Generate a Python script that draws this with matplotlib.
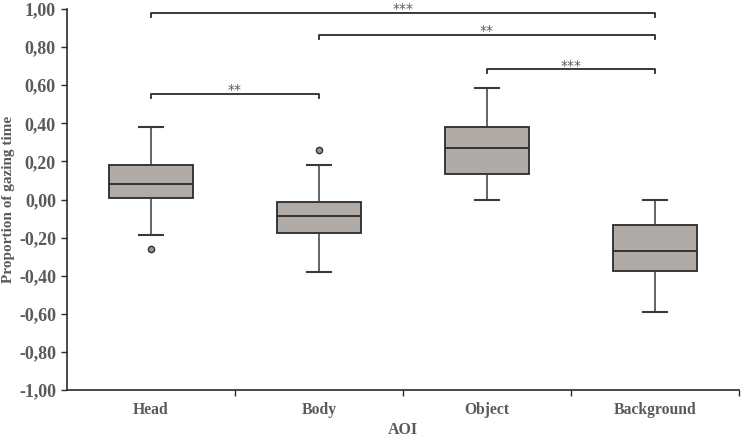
import matplotlib
matplotlib.use("Agg")
import matplotlib.pyplot as plt
from matplotlib.ticker import FixedLocator, FuncFormatter

categories = ["Head", "Body", "Object", "Background"]
whisker_low = [-0.184, -0.379, 0.0, -0.588]
q1 = [0.01, -0.175, 0.133, -0.377]
median = [0.083, -0.086, 0.272, -0.272]
q3 = [0.18, -0.014, 0.383, -0.135]
whisker_high = [0.383, 0.18, 0.585, 0.0]
outliers = [[-0.26], [0.258], [], []]

# significance brackets: (from index, to index, height, label)
brackets = [(0, 3, 0.98, "***"), (1, 3, 0.865, "**"), (2, 3, 0.684, "***"), (0, 1, 0.556, "**")]

y_ticks = [-1.0, -0.8, -0.6, -0.4, -0.2, 0.0, 0.2, 0.4, 0.6, 0.8, 1.0]

text_color = "#5a5a5a"
line_color = "#2b2b2b"
box_color = "#b0aba7"
font = ["Liberation Serif", "DejaVu Serif"]

W, H = 742, 438
fig = plt.figure(figsize=(W / 100, H / 100), dpi=100)
ax = fig.add_axes([67 / W, 1 - 390 / H, (739 - 67) / W, (390 - 9) / H])

stats = []
for i, c in enumerate(categories):
    stats.append(dict(label=c, whislo=whisker_low[i], q1=q1[i], med=median[i],
                      q3=q3[i], whishi=whisker_high[i], fliers=outliers[i]))

positions = list(range(1, len(categories) + 1))
ax.bxp(stats, positions=positions, widths=0.5, capwidths=0.14, patch_artist=True,
       boxprops=dict(facecolor=box_color, edgecolor=line_color, linewidth=1.3),
       medianprops=dict(color=line_color, linewidth=1.3),
       whiskerprops=dict(color="#3a3a3a", linewidth=1.1),
       capprops=dict(color="#3a3a3a", linewidth=1.5),
       flierprops=dict(marker="o", markersize=4.5, markerfacecolor="#9a9592",
                       markeredgecolor="#333333", markeredgewidth=1.0))

ax.set_xlim(0.5, 4.5)
ax.set_ylim(-1.0, 1.0)

for spine in ["top", "right"]:
    ax.spines[spine].set_visible(False)
for spine in ["left", "bottom"]:
    ax.spines[spine].set_color(line_color)
    ax.spines[spine].set_linewidth(1.2)

ax.yaxis.set_major_locator(FixedLocator(y_ticks))
ax.yaxis.set_major_formatter(FuncFormatter(lambda v, p: f"{v:.2f}".replace(".", ",").replace("-0,00", "0,00")))
ax.xaxis.set_major_locator(FixedLocator([1.5, 2.5, 3.5, 4.5]))
ax.xaxis.set_major_formatter(FuncFormatter(lambda v, p: ""))
ax.xaxis.set_minor_locator(FixedLocator(positions))
ax.xaxis.set_minor_formatter(FuncFormatter(lambda v, p: categories[int(round(v)) - 1]))
ax.tick_params(axis="x", which="major", length=4, width=1.0, color=line_color, direction="out")
ax.tick_params(axis="x", which="minor", length=0, pad=9)
ax.tick_params(axis="y", length=4, width=1.0, color=line_color, direction="out", pad=4)

for lab in ax.get_yticklabels():
    lab.set_family(font)
    lab.set_fontweight("bold")
    lab.set_fontsize(13)
    lab.set_color(text_color)
for lab in ax.get_xticklabels(minor=True):
    lab.set_family(font)
    lab.set_fontweight("bold")
    lab.set_fontsize(11.3)
    lab.set_color(text_color)

xl = ax.set_xlabel("AOI", family=font, fontweight="bold", fontsize=11.5, color=text_color)
xl.set_va("baseline")
ax.xaxis.set_label_coords(0.5, -(434 - 390) / 381)
yl = ax.set_ylabel("Proportion of gazing time", family=font, fontweight="bold", fontsize=11,
                   color=text_color)
yl.set_va("center")
ax.yaxis.set_label_coords((9 - 67) / 672, 0.5)

hook = 0.022
for a, b, h, lab in brackets:
    xa, xb = positions[a], positions[b]
    ax.plot([xa, xa, xb, xb], [h - hook, h, h, h - hook], color=line_color, lw=1.3,
            solid_joinstyle="round", clip_on=False)
    ax.text((xa + xb) / 2, h + 0.056, lab, ha="center", va="top", fontsize=10,
            color=text_color, family=["DejaVu Sans"], clip_on=False)

fig.savefig("out.png", dpi=100)
